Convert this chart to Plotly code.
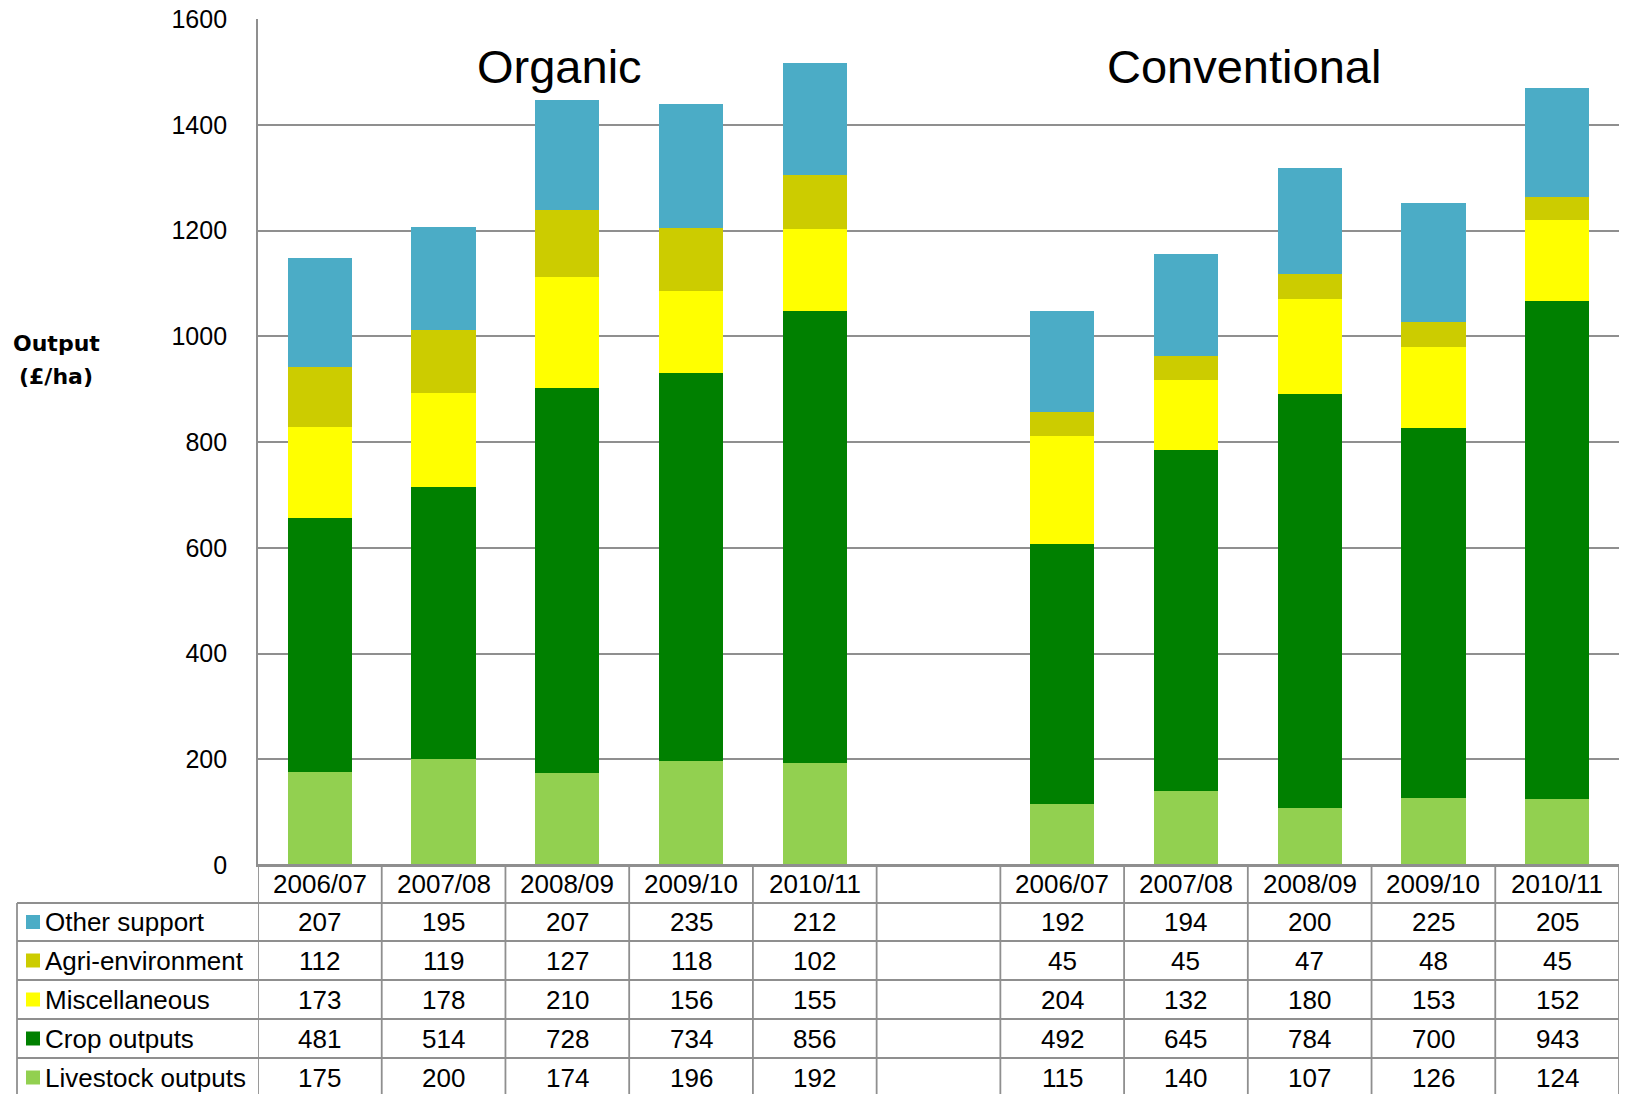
import plotly.graph_objects as go

# ---- data -------------------------------------------------------------
years = ["2006/07", "2007/08", "2008/09", "2009/10", "2010/11"]
groups = ["Organic", "Conventional"]

series_names = ["Other support", "Agri-environment", "Miscellaneous",
                "Crop outputs", "Livestock outputs"]
series_colors = ["#4BACC6", "#CCCC00", "#FFFF00", "#008000", "#92D050"]

organic_other = [207, 195, 207, 235, 212]
organic_agri = [112, 119, 127, 118, 102]
organic_misc = [173, 178, 210, 156, 155]
organic_crop = [481, 514, 728, 734, 856]
organic_livestock = [175, 200, 174, 196, 192]

conv_other = [192, 194, 200, 225, 205]
conv_agri = [45, 45, 47, 48, 45]
conv_misc = [204, 132, 180, 153, 152]
conv_crop = [492, 645, 784, 700, 943]
conv_livestock = [115, 140, 107, 126, 124]

organic = [organic_other, organic_agri, organic_misc, organic_crop, organic_livestock]
conventional = [conv_other, conv_agri, conv_misc, conv_crop, conv_livestock]

# category slots: 0-4 organic, 5 empty spacer, 6-10 conventional
org_x = [0, 1, 2, 3, 4]
conv_x = [6, 7, 8, 9, 10]

# ---- layout geometry (pixels) ----------------------------------------
W, H = 1625, 1094
L, R, T, B = 258, 6, 19, 229
PW, PH = W - L - R, H - T - B
GRID = "#8f8f8f"
FONT = "Liberation Sans, Arial, sans-serif"
TABLE_SIZE = 26


def py(p):
    """pixel row -> paper y"""
    return (H - B - p) / PH


def px(p):
    """pixel column -> paper x"""
    return (p - L) / PW


fig = go.Figure()

# stack from the bottom up: livestock, crop, misc, agri, other
for i in reversed(range(len(series_names))):
    xs = org_x + conv_x
    ys = organic[i] + conventional[i]
    fig.add_trace(go.Bar(
        x=xs, y=ys, name=series_names[i], width=0.52,
        marker=dict(color=series_colors[i], line=dict(width=0)),
        showlegend=False, hoverinfo="y+name",
    ))

shapes = []
annotations = []

# table grid
row_lines = [865, 903, 941, 980, 1019, 1058, 1097]
bottom = 1100
col_edges = [k - 0.5 for k in range(12)]
for j, yl in enumerate(row_lines):
    x0 = px(258) if j == 0 else px(17)
    shapes.append(dict(type="line", xref="paper", yref="paper",
                       x0=x0, x1=1, y0=py(yl), y1=py(yl),
                       line=dict(color=GRID, width=1.8)))
for ce in col_edges:
    shapes.append(dict(type="line", xref="x", yref="paper",
                       x0=ce, x1=ce, y0=py(865), y1=py(bottom),
                       line=dict(color=GRID, width=1.8)))
shapes.append(dict(type="line", xref="paper", yref="paper",
                   x0=px(17), x1=px(17), y0=py(903), y1=py(bottom),
                   line=dict(color=GRID, width=1.8)))

# header row with the years
header_y = 884
for xs in (org_x, conv_x):
    for xv, yr in zip(xs, years):
        annotations.append(dict(x=xv, y=py(header_y), xref="x", yref="paper",
                                text=yr, showarrow=False, xanchor="center",
                                yanchor="middle",
                                font=dict(size=TABLE_SIZE, color="black", family=FONT)))

# data rows
row_centers = [922, 960.5, 999.5, 1038.5, 1077.5]
for i, name in enumerate(series_names):
    yc = row_centers[i]
    shapes.append(dict(type="rect", xref="paper", yref="paper",
                       x0=px(26), x1=px(40), y0=py(yc - 7), y1=py(yc + 7),
                       fillcolor=series_colors[i], line=dict(width=0)))
    annotations.append(dict(x=px(43), y=py(yc), xref="paper", yref="paper",
                            text=name, showarrow=False, xanchor="left",
                            yanchor="middle",
                            font=dict(size=TABLE_SIZE, color="black", family=FONT)))
    for xs, vals in ((org_x, organic[i]), (conv_x, conventional[i])):
        for xv, v in zip(xs, vals):
            annotations.append(dict(x=xv, y=py(yc), xref="x", yref="paper",
                                    text=str(v), showarrow=False,
                                    xanchor="center", yanchor="middle",
                                    font=dict(size=TABLE_SIZE, color="black", family=FONT)))

# group titles
annotations.append(dict(x=1.94, y=py(66), xref="x", yref="paper", text=groups[0],
                        showarrow=False, xanchor="center", yanchor="middle",
                        font=dict(size=47, color="black", family=FONT)))
annotations.append(dict(x=7.47, y=py(66), xref="x", yref="paper", text=groups[1],
                        showarrow=False, xanchor="center", yanchor="middle",
                        font=dict(size=47, color="black", family=FONT)))

# y-axis title
annotations.append(dict(x=px(56), y=py(343), xref="paper", yref="paper",
                        text="<b>Output</b>", showarrow=False, xanchor="center",
                        yanchor="middle",
                        font=dict(size=22, color="black", family="DejaVu Sans")))
annotations.append(dict(x=px(56), y=py(377), xref="paper", yref="paper",
                        text="<b>(£/ha)</b>", showarrow=False, xanchor="center",
                        yanchor="middle",
                        font=dict(size=22, color="black", family="DejaVu Sans")))

fig.update_layout(
    width=W, height=H, autosize=False,
    margin=dict(l=L, r=R, t=T, b=B, pad=0),
    barmode="stack", bargap=0.48,
    plot_bgcolor="white", paper_bgcolor="white",
    shapes=shapes, annotations=annotations,
    xaxis=dict(range=[-0.5, 10.5], showticklabels=False, showgrid=False,
               zeroline=False, showline=True, linecolor=GRID, linewidth=1.8,
               ticks="", fixedrange=True),
    yaxis=dict(range=[0, 1600], dtick=200, showgrid=True, gridcolor=GRID,
               gridwidth=1.8, zeroline=False, showline=True, linecolor=GRID,
               linewidth=1.8, ticks="", ticklabelstandoff=24,
               tickfont=dict(size=25, color="black", family=FONT),
               fixedrange=True),
)

fig.write_html("out.html")
